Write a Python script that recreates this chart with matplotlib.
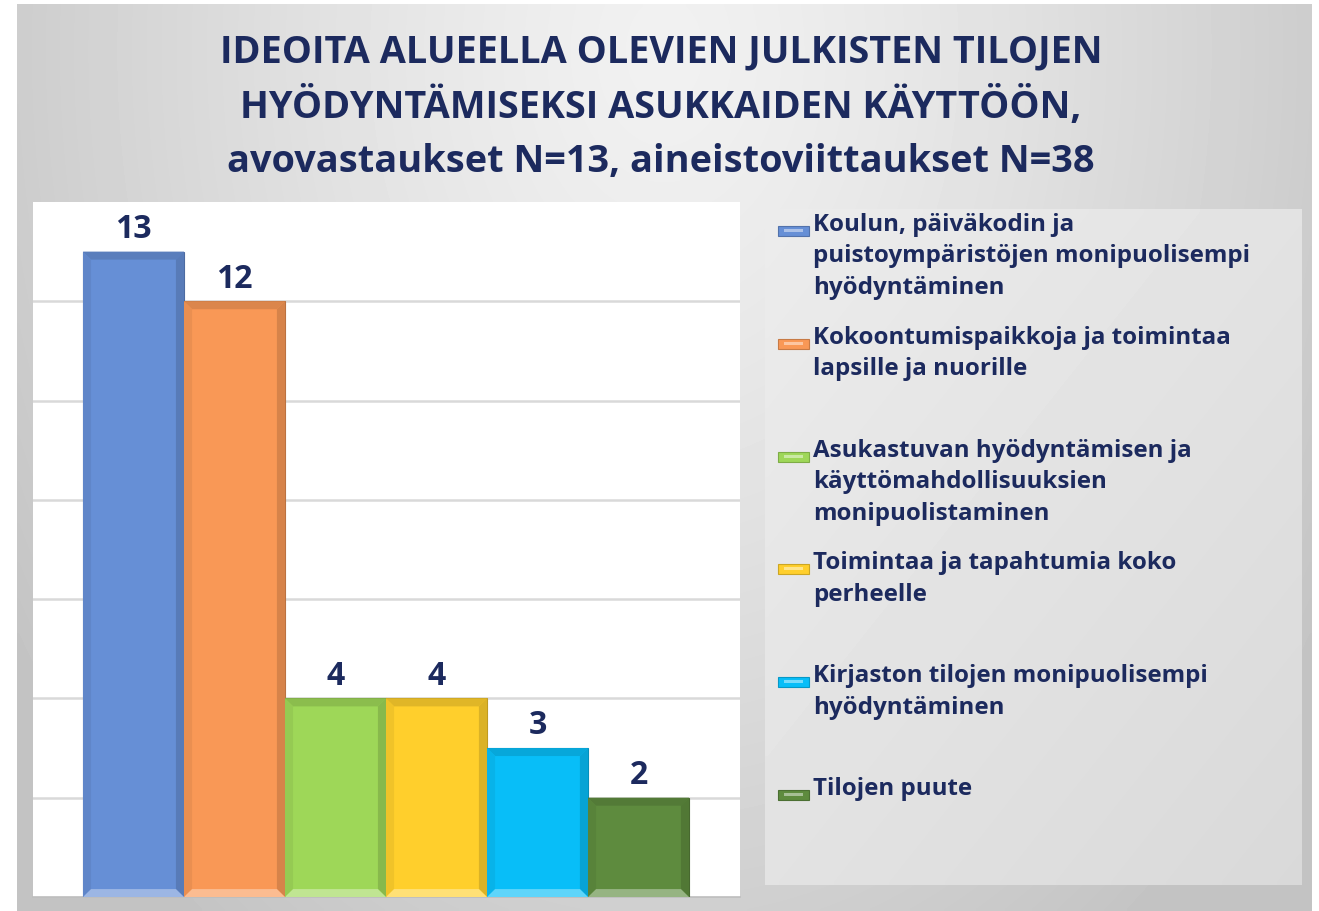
import numpy as np
import matplotlib
matplotlib.use("Agg")
import matplotlib.pyplot as plt
from matplotlib.patches import Rectangle, Polygon
from matplotlib.colors import to_rgb

# ---------------- data ----------------
categories = [
    "Koulun, päiväkodin ja\npuistoympäristöjen monipuolisempi\nhyödyntäminen",
    "Kokoontumispaikkoja ja toimintaa\nlapsille ja nuorille",
    "Asukastuvan hyödyntämisen ja\nkäyttömahdollisuuksien\nmonipuolistaminen",
    "Toimintaa ja tapahtumia koko\nperheelle",
    "Kirjaston tilojen monipuolisempi\nhyödyntäminen",
    "Tilojen puute",
]
values = [13, 12, 4, 4, 3, 2]
colors = ["#668FD6", "#F99856", "#9ED758", "#FFCF2C", "#08BEF8", "#5E8B3E"]
title_lines = [
    "IDEOITA ALUEELLA OLEVIEN JULKISTEN TILOJEN",
    "HYÖDYNTÄMISEKSI ASUKKAIDEN KÄYTTÖÖN,",
    "avovastaukset N=13, aineistoviittaukset N=38",
]

NAVY = "#1C2A5E"
FONT = "Open Sans"
W, H = 1319, 912


def fx(x):
    return x / W


def fy(y):
    return 1 - y / H


def mix(c, other, t):
    c = np.array(to_rgb(c))
    o = np.array(to_rgb(other))
    return tuple(c * (1 - t) + o * t)


fig = plt.figure(figsize=(W / 100, H / 100), dpi=100)
fig.patch.set_facecolor("white")

# ---------- chart frame background (gray gradient) ----------
bg = fig.add_axes([fx(17), 0, (1312 - 17) / W, (912 - 5) / H])
gx, gy = np.meshgrid(np.linspace(0, 1, 300), np.linspace(0, 1, 220))
d = np.sqrt(((gx - 0.5) / 0.5) ** 2 + ((gy - 0.05) / 1.0) ** 2)
d = np.clip(d, 0, 1.2)
img = 0.945 - 0.14 * d ** 1.3
bg.imshow(img, cmap="gray", vmin=0, vmax=1, aspect="auto",
          extent=[0, 1, 0, 1], origin="upper", interpolation="bilinear")
bg.axis("off")

# ---------- legend background ----------
lg = fig.add_axes([fx(765), fy(886), (1302 - 765) / W, (886 - 210) / H])
lx, ly = np.meshgrid(np.linspace(0, 1, 100), np.linspace(0, 1, 100))
limg = 0.925 - 0.075 * (lx + ly) / 2
lg.imshow(limg, cmap="gray", vmin=0, vmax=1, aspect="auto",
          extent=[0, 1, 0, 1], origin="upper", interpolation="bilinear")
lg.axis("off")

# ---------- main plot ----------
ax = fig.add_axes([fx(33), fy(898), (740 - 33) / W, (898 - 203) / H])
ax.set_facecolor("white")
x = np.arange(len(values))
bars = ax.bar(x, values, width=1.0, color=colors, zorder=3,
              edgecolor=[mix(c, "black", 0.25) for c in colors], linewidth=0.8)
ax.set_xlim(-0.995, 6.005)
ax.set_ylim(0, 14)
ax.set_yticks(range(2, 13, 2))
ax.set_xticks([])
ax.tick_params(length=0, labelleft=False)
ax.grid(axis="y", color="#D9D9D9", lw=1.8, zorder=0)
for s in ["top", "left", "right"]:
    ax.spines[s].set_visible(False)
ax.spines["bottom"].set_color("#BDBDBD")
ax.spines["bottom"].set_linewidth(1.2)

# bevel effect derived from bar geometry
bx, by = 0.08, 0.16
for rect, col in zip(bars, colors):
    x0, w, h = rect.get_x(), rect.get_width(), rect.get_height()
    polys = [
        ([(x0, h), (x0 + w, h), (x0 + w - bx, h - by), (x0 + bx, h - by)], mix(col, "black", 0.12)),
        ([(x0, 0), (x0, h), (x0 + bx, h - by), (x0 + bx, by)], mix(col, "black", 0.06)),
        ([(x0 + w, 0), (x0 + w, h), (x0 + w - bx, h - by), (x0 + w - bx, by)], mix(col, "black", 0.14)),
        ([(x0, 0), (x0 + w, 0), (x0 + w - bx, by), (x0 + bx, by)], mix(col, "white", 0.35)),
    ]
    for pts, c in polys:
        ax.add_patch(Polygon(pts, closed=True, facecolor=c, edgecolor="none", zorder=4))
    ax.annotate(str(int(h)), (x0 + w / 2, h), xytext=(0, 10.5), textcoords="offset points",
                ha="center", va="baseline", fontsize=23, fontweight="bold",
                color=NAVY, family=FONT, zorder=5)

# ---------- title ----------
title_texts = []
for i, line in enumerate(title_lines):
    t = fig.text(fx(661), fy([62, 118, 172][i]), line, ha="center", va="baseline",
                 fontsize=26, fontweight="bold", color=NAVY, family=FONT)
    title_texts.append(t)

# ---------- legend ----------
leg_texts = []
ref_text = None
for i, (lab, col) in enumerate(zip(categories, colors)):
    base = 231 + 112.8 * i
    fig.add_artist(Rectangle((fx(778), fy(base + 6)), 31 / W, 10 / H,
                             transform=fig.transFigure, facecolor=col,
                             edgecolor=mix(col, "black", 0.2), lw=0.8))
    fig.add_artist(Rectangle((fx(784), fy(base + 2)), 19 / W, 3 / H,
                             transform=fig.transFigure, facecolor=mix(col, "white", 0.45),
                             edgecolor="none"))
    for j, ln in enumerate(lab.split("\n")):
        t = fig.text(fx(813), fy(base + 31.5 * j), ln, ha="left", va="baseline",
                     fontsize=16, fontweight="bold", color=NAVY, family=FONT)
        leg_texts.append(t)
        if ln.startswith("puistoympäristöjen"):
            ref_text = t

# fit font sizes to measured widths
fig.canvas.draw()
r = fig.canvas.get_renderer()
wt = title_texts[0].get_window_extent(r).width
fs_t = title_texts[0].get_fontsize() * 885 / wt
for t in title_texts:
    t.set_fontsize(fs_t)
wl = ref_text.get_window_extent(r).width
fs_l = ref_text.get_fontsize() * 439 / wl
for t in leg_texts:
    t.set_fontsize(fs_l)

fig.savefig("out.png", dpi=100, facecolor=fig.get_facecolor())
